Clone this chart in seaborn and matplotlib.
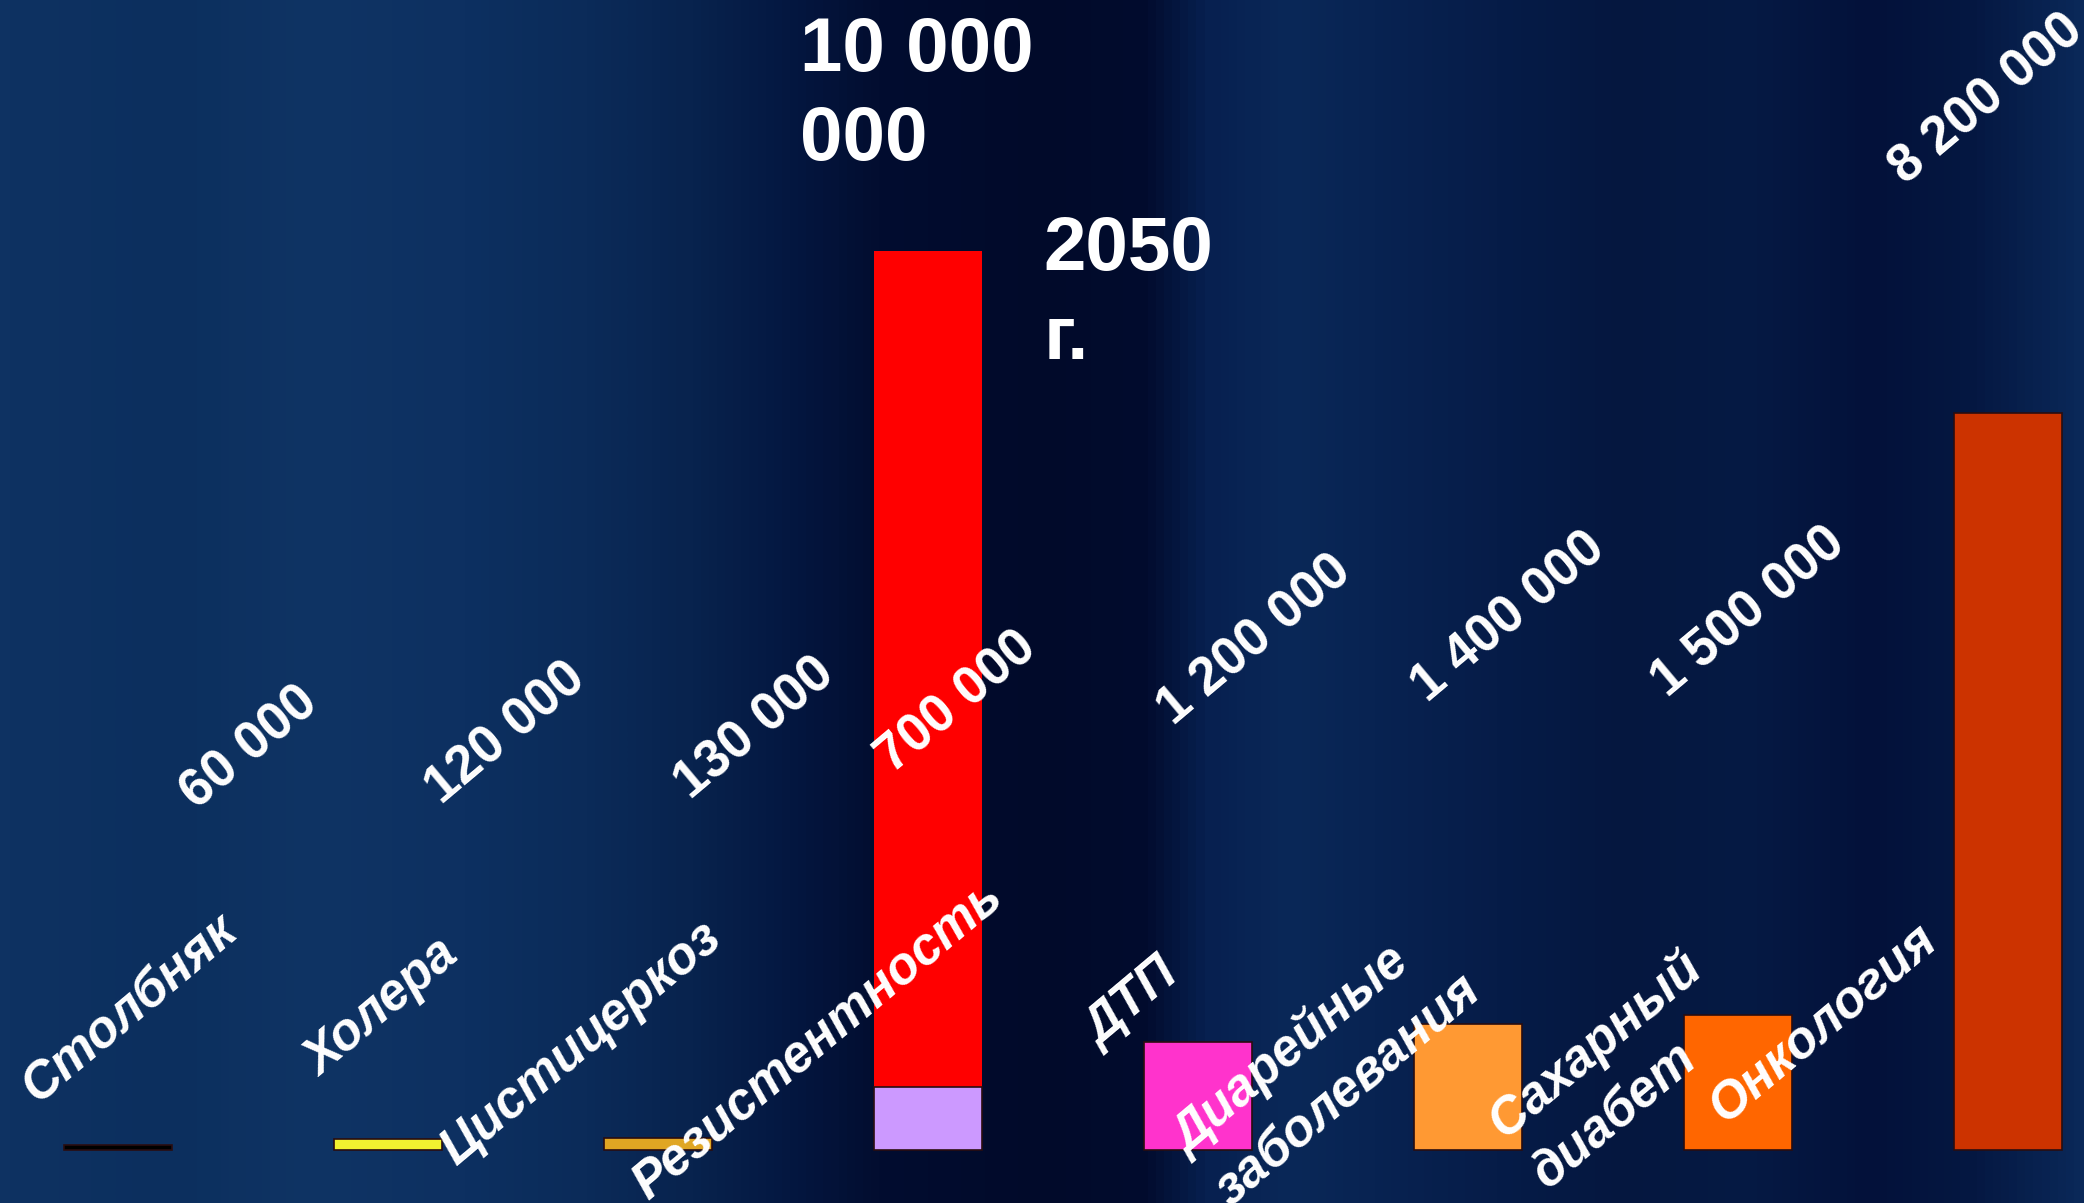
import numpy as np
import pandas as pd
import matplotlib.pyplot as plt
import seaborn as sns
from matplotlib.colors import LinearSegmentedColormap

# данные: смертность в год (сейчас) и прогноз резистентности на 2050 г.
categories = ['Столбняк', 'Холера', 'Цистицеркоз', 'Резистентность', 'ДТП',
              'Диарейные\nзаболевания', 'Сахарный\nдиабет', 'Онкология']
deaths_now = [60000, 120000, 130000, 700000, 1200000, 1400000, 1500000, 8200000]
value_labels = ['60 000', '120 000', '130 000', '700 000', '1 200 000',
                '1 400 000', '1 500 000', '8 200 000']
resistance_2050 = 10000000
resistance_2050_label = '10 000\n000'
year_label = '2050\nг.'

bar_colors = ['#000000', '#f2f230', '#e0a623', '#cc99ff', '#ff33cc',
              '#ff9933', '#ff6600', '#cc3300']

# положения подписей (индекс столбца, значение по оси y; для двух строк - последняя)
value_pos = [(0.29, 3.77e6), (1.20, 3.83e6), (2.12, 3.88e6), (2.87, 4.17e6),
             (3.91, 4.71e6), (4.85, 4.96e6), (5.74, 5.02e6), (6.62, 10.72e6)]
cat_pos = [(-0.30, 0.51e6), (0.75, 0.80e6), (1.25, -0.19e6), (1.96, -0.56e6),
           (3.64, 1.14e6), (4.08, -0.48e6), (5.25, -0.30e6), (5.95, 0.28e6)]

df = pd.DataFrame({'cat': categories, 'now': deaths_now,
                   'future': [0, 0, 0, resistance_2050, 0, 0, 0, 0]})

fig = plt.figure(figsize=(20.84, 12.03), dpi=100)
ax = fig.add_axes([0, 0, 1, 1])
xlim = (-0.437, 7.28)
ylim = (-0.59e6, 12.79e6)

# фон: тёмно-синий с мягкими вертикальными полосами
bg_stops = [(0.00, '#0e3262'), (0.08, '#0c2f5e'), (0.15, '#0f3464'),
            (0.22, '#0d3061'), (0.28, '#0b2b59'), (0.33, '#08234e'),
            (0.38, '#041740'), (0.42, '#020d30'), (0.50, '#010a2a'),
            (0.55, '#020c2e'), (0.58, '#072050'), (0.62, '#0a2858'),
            (0.66, '#082352'), (0.72, '#061c48'), (0.78, '#05173f'),
            (0.84, '#061a44'), (0.90, '#03113a'), (0.95, '#051842'),
            (1.00, '#0a2858')]
cmap = LinearSegmentedColormap.from_list('bg', bg_stops)
grad = np.linspace(0, 1, 600)[None, :].repeat(2, axis=0)
ax.imshow(grad, cmap=cmap, extent=[xlim[0], xlim[1], ylim[0], ylim[1]],
          aspect='auto', zorder=0, interpolation='bicubic')

sns.barplot(data=df, x='cat', y='future', color='#ff0000', saturation=1,
            width=0.4, linewidth=0, ax=ax, zorder=2)
sns.barplot(data=df, x='cat', y='now', hue='cat', palette=bar_colors,
            saturation=1, width=0.4, legend=False, edgecolor='#2a0d10',
            linewidth=1.2, ax=ax, zorder=3)

font = 'Liberation Sans'
for lab, (x, y) in zip(value_labels, value_pos):
    ax.text(x, y, lab, rotation=40, rotation_mode='anchor', ha='left',
            va='baseline', color='white', fontsize=38, fontweight='bold',
            family=font, zorder=5)
for lab, (x, y) in zip(categories, cat_pos):
    ax.text(x, y, lab, rotation=40, rotation_mode='anchor', ha='left',
            va='baseline', color='white', fontsize=37, fontweight='bold',
            fontstyle='italic', family=font, linespacing=1.45, zorder=5)

ax.text(2.526, 11.01e6, resistance_2050_label, ha='left', va='baseline',
        color='white', fontsize=55, fontweight='bold', family=font,
        linespacing=1.33, zorder=5)
ax.text(3.426, 8.80e6, year_label, ha='left', va='baseline',
        color='white', fontsize=55, fontweight='bold', family=font,
        linespacing=1.33, zorder=5)

ax.set_xlim(xlim)
ax.set_ylim(ylim)
ax.axis('off')
fig.savefig('out.png', dpi=100)
